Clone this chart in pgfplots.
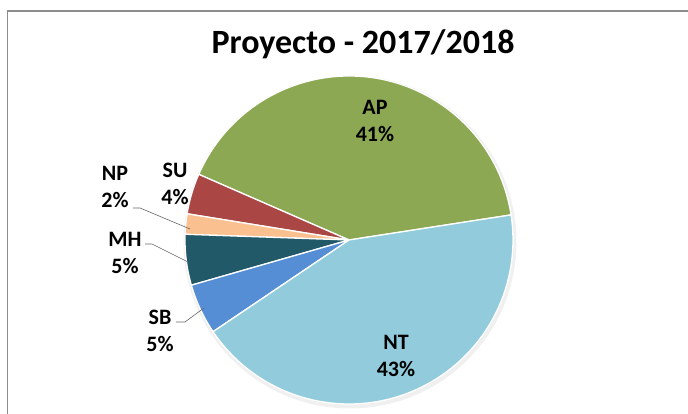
\documentclass[border=0pt]{standalone}
\usepackage{pgfplots}
\pgfplotsset{compat=1.18}
\usepackage{pgfplotstable}
\usepackage{fontspec}
\setmainfont{Carlito}
\definecolor{pie0}{RGB}{140,168,82}  % AP
\definecolor{pie1}{RGB}{170,70,68}   % SU
\definecolor{pie2}{RGB}{250,192,144} % NP
\definecolor{pie3}{RGB}{33,89,104}   % MH
\definecolor{pie4}{RGB}{85,142,213}  % SB
\definecolor{pie5}{RGB}{146,204,220} % NT
\definecolor{framegray}{RGB}{140,140,140}

% value in percent, counter-clockwise from the start angle
\pgfplotstableread{
label value
AP 41
SU 4
NP 2
MH 5
SB 5
NT 43
}\piedata

\xdef\cum{8.8}
\foreach \i in {0,...,5}{%
  \pgfplotstablegetelem{\i}{value}\of\piedata
  \pgfmathsetmacro\e{\cum+\pgfplotsretval*3.6}%
  \expandafter\xdef\csname sa\i\endcsname{\cum}%
  \expandafter\xdef\csname ea\i\endcsname{\e}%
  \xdef\cum{\e}%
}

\begin{document}
\begin{tikzpicture}
\begin{axis}[
  width=688pt, height=414pt, scale only axis,
  xmin=0, xmax=688, ymin=0, ymax=414,
  hide axis, clip=false,
]
% frame
\draw[framegray, line width=1.8pt] (axis cs:7.5,0) -- (axis cs:7.5,403) -- (axis cs:688,403);
% soft shadow
\fill[black!12] (axis cs:350,172.5) circle[radius=165.5pt];
\fill[black!6] (axis cs:350,172) circle[radius=166.5pt];
% slices
\foreach \i in {0,...,5}{%
  \edef\tmp{\noexpand\fill[pie\i, draw=white, line width=1.3pt, line join=round]
    (axis cs:349,174) -- ++(\csname sa\i\endcsname:164pt)
    arc[start angle=\csname sa\i\endcsname, end angle=\csname ea\i\endcsname, radius=164pt] -- cycle;}%
  \tmp
}
% title
\node[font=\fontsize{34}{40}\selectfont\bfseries] at (axis cs:363,370) {Proyecto - 2017/2018};
% labels
\tikzset{lab/.style={font=\fontsize{22}{27}\selectfont\bfseries, align=center}}
\node[lab] at (axis cs:375,293.5) {AP\\41\%};
\node[lab] at (axis cs:396,58) {NT\\43\%};
\node[lab] at (axis cs:175,230) {SU\\4\%};
\node[lab] at (axis cs:115,227.5) {NP\\2\%};
\node[lab] at (axis cs:125,161.5) {MH\\5\%};
\node[lab] at (axis cs:160,83.5) {SB\\5\%};
% leader lines
\draw[black!60, line width=0.6pt] (axis cs:133,206) -- (axis cs:140,206) -- (axis cs:190,185);
\draw[black!60, line width=0.6pt] (axis cs:145,170) -- (axis cs:152,170) -- (axis cs:188,152);
\draw[black!60, line width=0.6pt] (axis cs:176,92) -- (axis cs:185,92) -- (axis cs:204,106);
\end{axis}
\pgfresetboundingbox
\useasboundingbox (0,0) rectangle (688pt,414pt);
\end{tikzpicture}
\end{document}
